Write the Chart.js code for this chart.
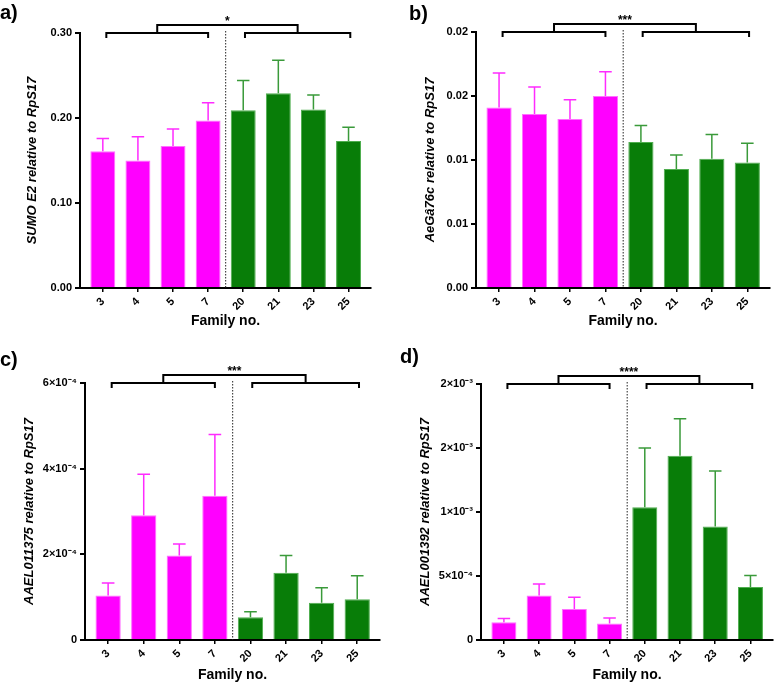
<!DOCTYPE html>
<html>
<head>
<meta charset="utf-8">
<script src="https://cdn.jsdelivr.net/npm/chart.js@4.4.1/dist/chart.umd.min.js"></script>
<style>
  body { margin: 0; background: #fff; }
  #wrap { position: relative; width: 778px; height: 684px; overflow: hidden; }
  canvas { position: absolute; }
  .lbl { position: absolute; font: bold 20px "Liberation Sans", Arial, sans-serif; line-height: 20px; color: #000; }
</style>
</head>
<body>
<div id="wrap">
  <canvas id="ca" width="389" height="330" style="left:0;top:0"></canvas>
  <canvas id="cb" width="389" height="330" style="left:389px;top:0"></canvas>
  <canvas id="cc" width="389" height="352" style="left:0;top:332px"></canvas>
  <canvas id="cd" width="389" height="352" style="left:389px;top:332px"></canvas>
  <div class="lbl" style="left:0;top:2px">a)</div>
  <div class="lbl" style="left:409px;top:3px">b)</div>
  <div class="lbl" style="left:0;top:349px">c)</div>
  <div class="lbl" style="left:400px;top:346px">d)</div>
</div>
<script>
let families = ['3', '4', '5', '7', '20', '21', '23', '25']

// a) SUMO E2
let sumoMean = [0.161, 0.150, 0.167, 0.197, 0.209, 0.229, 0.210, 0.173]
let sumoSem  = [0.015, 0.028, 0.020, 0.021, 0.035, 0.039, 0.017, 0.016]
let sumoTicks = [0, 0.1, 0.2, 0.3]
let sumoTickLabels = ['0.00', '0.10', '0.20', '0.30']

// b) AeGâ76c
let gMean = [0.0141, 0.0136, 0.0132, 0.0150, 0.0114, 0.0093, 0.0101, 0.0098]
let gSem  = [0.0027, 0.0021, 0.0015, 0.0019, 0.0013, 0.0011, 0.0019, 0.0015]
let gTicks = [0, 0.005, 0.01, 0.015, 0.02]
let gTickLabels = ['0.00', '0.01', '0.01', '0.02', '0.02']

// c) AAEL011375
let c375Mean = [1.04e-4, 2.91e-4, 1.97e-4, 3.37e-4, 0.53e-4, 1.57e-4, 0.87e-4, 0.95e-4]
let c375Sem  = [0.29e-4, 0.96e-4, 0.27e-4, 1.43e-4, 0.13e-4, 0.40e-4, 0.35e-4, 0.55e-4]
let c375Ticks = [0, 2e-4, 4e-4, 6e-4]
let c375TickLabels = ['0', '2×10⁻⁴', '4×10⁻⁴', '6×10⁻⁴']

// d) AAEL001392
let d392Mean = [1.39e-4, 3.47e-4, 2.43e-4, 1.28e-4, 1.038e-3, 1.44e-3, 0.887e-3, 4.15e-4]
let d392Sem  = [0.28e-4, 0.91e-4, 0.91e-4, 0.44e-4, 4.62e-4, 2.89e-4, 4.33e-4, 0.88e-4]
let d392Ticks = [0, 5e-4, 1e-3, 1.5e-3, 2e-3]
let d392TickLabels = ['0', '5×10⁻⁴', '1×10⁻³', '2×10⁻³', '2×10⁻³']

const FONT = '"Liberation Sans", Arial, sans-serif'
const MAGENTA = '#ff00ff'
const GREEN = '#087d08'

// error bars, dotted divider and the significance brackets
const extras = {
    id: 'extras',
    afterDraw(chart, args, opts) {
        const {ctx, chartArea, scales: {x, y}} = chart
        const meta = chart.getDatasetMeta(0)
        ctx.save()
        meta.data.forEach((bar, i) => {
            let yb = y.getPixelForValue(opts.mean[i])
            let yt = y.getPixelForValue(opts.mean[i] + opts.sem[i])
            let half = bar.width / 4
            ctx.strokeStyle = i < 4 ? '#ff2bff' : '#3a9a3a'
            ctx.lineWidth = 1.5
            ctx.beginPath()
            ctx.moveTo(bar.x, yb); ctx.lineTo(bar.x, yt)
            ctx.moveTo(bar.x - half, yt); ctx.lineTo(bar.x + half, yt)
            ctx.stroke()
        })
        // dotted divider between the two groups
        let xd = x.getPixelForValue(3.5)
        ctx.strokeStyle = '#222'
        ctx.lineWidth = 1
        ctx.setLineDash([1.5, 1.5])
        ctx.beginPath()
        ctx.moveTo(xd, chartArea.top - 2); ctx.lineTo(xd, chartArea.bottom)
        ctx.stroke()
        ctx.setLineDash([])
        // brackets
        let yl = chartArea.top
        let yu = yl - 8
        let g1a = x.getPixelForValue(0.1), g1b = x.getPixelForValue(3)
        let g2a = x.getPixelForValue(4.05), g2b = x.getPixelForValue(7.05)
        let m1 = (g1a + g1b) / 2, m2 = (g2a + g2b) / 2
        ctx.strokeStyle = '#000'
        ctx.lineWidth = 2
        ctx.beginPath()
        ctx.moveTo(g1a, yl + 5); ctx.lineTo(g1a, yl); ctx.lineTo(g1b, yl); ctx.lineTo(g1b, yl + 5)
        ctx.moveTo(g2a, yl + 5); ctx.lineTo(g2a, yl); ctx.lineTo(g2b, yl); ctx.lineTo(g2b, yl + 5)
        ctx.moveTo(m1, yl); ctx.lineTo(m1, yu); ctx.lineTo(m2, yu); ctx.lineTo(m2, yl)
        ctx.stroke()
        ctx.fillStyle = '#000'
        ctx.font = 'bold 12px ' + FONT
        ctx.textAlign = 'center'
        ctx.textBaseline = 'alphabetic'
        ctx.fillText(opts.stars, (m1 + m2) / 2, yu)
        ctx.restore()
    }
}

function makePanel(id, mean, sem, tickVals, tickLabels, ymax, yTitle, stars, lay) {
    let ctx = document.getElementById(id).getContext('2d')
    return new Chart(ctx, {
        type: 'bar',
        data: {
            datasets: [{
                data: mean.map((v, i) => ({x: i, y: v})),
                backgroundColor: mean.map((v, i) => i < 4 ? MAGENTA : GREEN),
                borderColor: mean.map((v, i) => i < 4 ? '#ff70ff' : '#4fae4f'),
                borderWidth: 1,
                barPercentage: 0.71,
                categoryPercentage: 1
            }]
        },
        options: {
            responsive: false,
            animation: false,
            layout: { padding: { left: 0, right: lay.right, top: lay.top, bottom: 0 } },
            plugins: {
                legend: { display: false },
                tooltip: { enabled: false },
                extras: { mean: mean, sem: sem, stars: stars }
            },
            scales: {
                x: {
                    type: 'linear',
                    offset: false,
                    min: -0.65,
                    max: 7.64,
                    afterBuildTicks: ax => { ax.ticks = families.map((f, i) => ({value: i})) },
                    afterFit: s => { s.height = lay.xh },
                    ticks: {
                        autoSkip: false,
                        minRotation: 45,
                        maxRotation: 45,
                        padding: 3,
                        color: '#000',
                        font: { family: FONT, size: 11, weight: 'bold' },
                        callback: (v, i) => families[i]
                    },
                    grid: { offset: false, drawOnChartArea: false, tickLength: 4, color: '#000', lineWidth: 1.5 },
                    border: { color: '#000', width: 2 },
                    title: {
                        display: true,
                        text: 'Family no.',
                        color: '#000',
                        padding: { top: 0, bottom: 0 },
                        font: { family: FONT, size: 14, weight: 'bold' }
                    }
                },
                y: {
                    type: 'linear',
                    min: 0,
                    max: ymax,
                    afterBuildTicks: ax => { ax.ticks = tickVals.map(v => ({value: v})) },
                    afterFit: s => { s.width = lay.yw },
                    ticks: {
                        padding: 3,
                        color: '#000',
                        font: { family: FONT, size: 11, weight: 'bold' },
                        callback: (v, i) => tickLabels[i]
                    },
                    grid: { drawOnChartArea: false, tickLength: 5, color: '#000', lineWidth: 2 },
                    border: { color: '#000', width: 2 },
                    title: {
                        display: true,
                        text: yTitle,
                        color: '#000',
                        padding: { top: lay.tp, bottom: 0 },
                        font: { family: FONT, size: 13, weight: 'bold', style: 'italic' }
                    }
                }
            }
        },
        plugins: [extras]
    })
}

makePanel('ca', sumoMean, sumoSem, sumoTicks, sumoTickLabels, 0.30,
    'SUMO E2 relative to RpS17', '*', { yw: 80, right: 18, top: 33, xh: 42, tp: 25 })
makePanel('cb', gMean, gSem, gTicks, gTickLabels, 0.02,
    'AeGâ76c relative to RpS17', '***', { yw: 87, right: 8, top: 32, xh: 42, tp: 34 })
makePanel('cc', c375Mean, c375Sem, c375Ticks, c375TickLabels, 6e-4,
    'AAEL011375 relative to RpS17', '***', { yw: 85, right: 9, top: 51, xh: 44, tp: 22 })
makePanel('cd', d392Mean, d392Sem, d392Ticks, d392TickLabels, 2e-3,
    'AAEL001392 relative to RpS17', '****', { yw: 92, right: 5, top: 52, xh: 44, tp: 29 })
</script>
</body>
</html>
